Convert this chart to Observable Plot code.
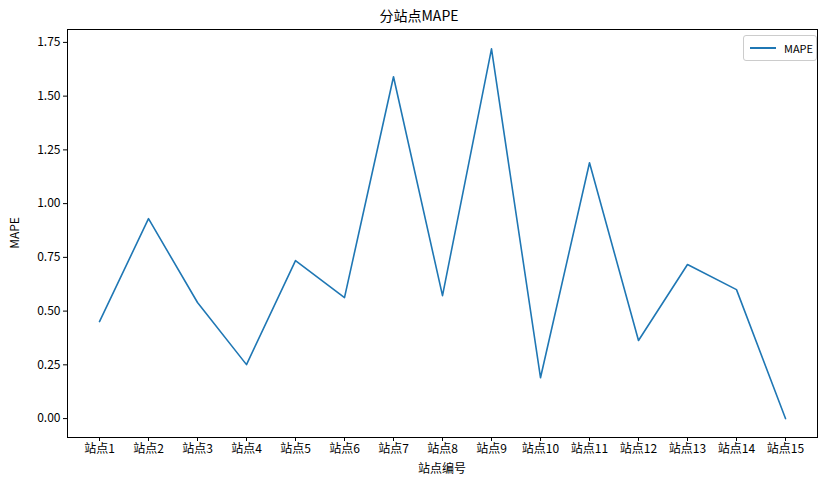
<!DOCTYPE html>
<html>
<head>
<meta charset="utf-8">
<script src="https://cdn.jsdelivr.net/npm/d3@7"></script>
<script src="https://cdn.jsdelivr.net/npm/@observablehq/plot@0.6"></script>
<style>
  body { margin: 0; background: #fff; font-family: "Noto Sans CJK SC", sans-serif; }
  #wrap { position: relative; width: 838px; }
  #title { height: 22px; line-height: 30px; text-align: center; font-size: 14px; color: #000; }
  #legend { position: absolute; left: 743px; top: 35px; width: 72px; height: 24px; border: 1px solid #ccc;
    border-radius: 3px; background: #fff; font-size: 11px; display: flex; align-items: center; }
  #legend span.l { display: inline-block; width: 26px; height: 2px; background: #1f77b4; margin: 0 8px 0 6px; }
</style>
</head>
<body>
<div id="wrap">
  <div id="title">分站点MAPE</div>
  <div id="chart"></div>
  <div id="legend"><span class="l"></span>MAPE</div>
</div>
<script>
const stations = ["站点1","站点2","站点3","站点4","站点5","站点6","站点7","站点8","站点9","站点10","站点11","站点12","站点13","站点14","站点15"];
const mape = [0.451, 0.93, 0.54, 0.251, 0.735, 0.563, 1.59, 0.572, 1.72, 0.19, 1.19, 0.363, 0.717, 0.60, 0.0];
const yTicks = [0, 0.25, 0.5, 0.75, 1.0, 1.25, 1.5, 1.75];

const data = stations.map((s, i) => ({ station: s, value: mape[i] }));

const chart = Plot.plot({
  width: 838,
  height: 463,
  marginTop: 7,
  marginLeft: 67,
  marginRight: 21,
  marginBottom: 48,
  style: { fontFamily: "Noto Sans CJK SC, sans-serif", fontSize: "12px", color: "#000" },
  x: { type: "point", domain: stations, padding: 0.59, label: null, tickSize: 4 },
  y: { domain: [-0.088, 1.81], ticks: yTicks, tickFormat: d3.format(".2f"), label: null, tickSize: 4 },
  marks: [
    Plot.frame({ stroke: "#000" }),
    Plot.line(data, { x: "station", y: "value", stroke: "#1f77b4", strokeWidth: 1.6 }),
    Plot.axisX({ tickSize: 4, tickPadding: 3 }),
    Plot.axisY({ ticks: yTicks, tickFormat: d3.format(".2f"), tickSize: 4, tickPadding: 3 })
  ]
});
document.getElementById("chart").append(chart);

// axis titles
const svg = d3.select(chart);
svg.append("text").attr("x", 442).attr("y", 451).attr("text-anchor", "middle")
  .style("font-size", "12px").text("站点编号");
svg.append("text").attr("transform", "translate(19,211) rotate(-90)").attr("text-anchor", "middle")
  .style("font-size", "12px").text("MAPE");
</script>
</body>
</html>
